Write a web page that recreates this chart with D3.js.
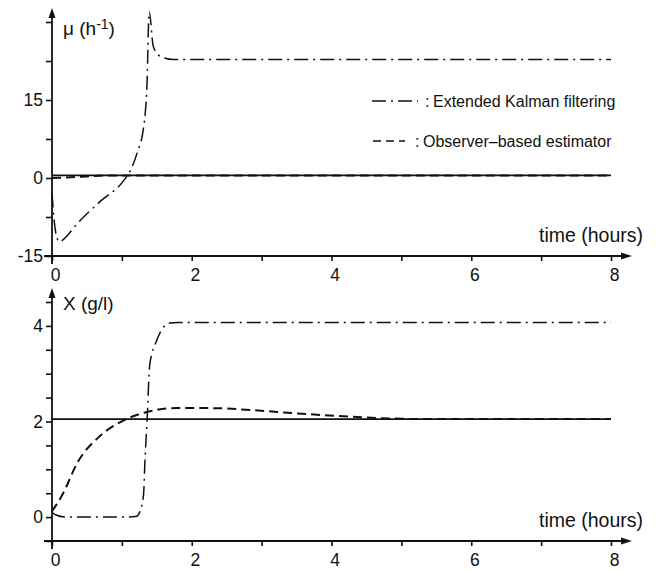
<!DOCTYPE html>
<html>
<head>
<meta charset="utf-8">
<script src="https://cdn.jsdelivr.net/npm/d3@7/dist/d3.min.js"></script>
<style>
  body { margin: 0; background: #fff; }
  svg { display: block; font-family: "Liberation Sans", Arial, sans-serif; }
  .tick text { font-size: 17.5px; fill: #111; }
  .tick line { stroke: #111; stroke-width: 1.6; }
</style>
</head>
<body>
<div id="chart"></div>
<script>
// time grid + values
const hourTicks = [0, 1, 2, 3, 4, 5, 6, 7, 8];
const hourLabels = [0, 2, 4, 6, 8];

const muTicks = [-15, -7.5, 0, 7.5, 15, 22.5, 30];
const muLabels = [-15, 0, 15];
const xTicks = [-0.5, 0, 0.5, 1, 1.5, 2, 2.5, 3, 3.5, 4, 4.5];
const xLabels = [0, 2, 4];

// true values (solid)
const trueT = [0, 8];
const trueMu = [0.5, 0.5];
const trueX = [2.05, 2.05];

// extended Kalman filter, mu
const ekfMuT = [0, 0.03, 0.07, 0.11, 0.18, 0.36, 0.69, 1.02, 1.12, 1.22, 1.31, 1.36, 1.39, 1.45, 1.55, 1.74, 2, 8];
const ekfMu = [-3, -8, -11.5, -12.3, -11.6, -8.8, -4.5, -0.6, 1.4, 4.9, 9.7, 18.3, 32, 25.3, 23.4, 22.8, 22.8, 22.8];

// observer, mu
const obsMuT = [0, 0.2, 0.5, 0.8, 8];
const obsMu = [0, 0.1, 0.3, 0.5, 0.5];

// extended Kalman filter, X
const ekfXT = [0, 0.05, 0.2, 0.6, 1.0, 1.2, 1.26, 1.31, 1.33, 1.36, 1.4, 1.5, 1.6, 1.69, 1.8, 8];
const ekfX = [0.1, 0.05, 0, 0, 0, 0.01, 0.12, 0.47, 1.17, 2.0, 3.2, 3.7, 3.98, 4.06, 4.07, 4.07];

// observer, X
const obsXT = [0, 0.16, 0.36, 0.69, 1.02, 1.36, 1.79, 2.27, 2.84, 3.5, 4.27, 4.7, 5.5, 8];
const obsX = [0.12, 0.5, 1.13, 1.7, 2.02, 2.2, 2.28, 2.28, 2.24, 2.17, 2.1, 2.07, 2.05, 2.05];

const W = 660, H = 572;
const ink = '#111';

const svg = d3.select('#chart').append('svg')
  .attr('width', W).attr('height', H);
svg.append('rect').attr('width', W).attr('height', H).attr('fill', '#fff');

const x = d3.scaleLinear().domain([0, 8]).range([52, 611]);

const panels = [
  {
    y: d3.scaleLinear().domain([-15, 30]).range([256, 22]),
    yTicks: muTicks, yLabels: muLabels, arrowTop: 8,
    series: [
      { t: trueT, v: trueMu, dash: null, w: 1.6 },
      { t: obsMuT, v: obsMu, dash: '9,5', w: 2 },
      { t: ekfMuT, v: ekfMu, dash: '14,5,2,5', w: 1.5 }
    ]
  },
  {
    y: d3.scaleLinear().domain([-0.5, 4.5]).range([541, 302]),
    yTicks: xTicks, yLabels: xLabels, arrowTop: 288,
    series: [
      { t: trueT, v: trueX, dash: null, w: 1.6 },
      { t: obsXT, v: obsX, dash: '9,5', w: 2 },
      { t: ekfXT, v: ekfX, dash: '14,5,2,5', w: 1.5 }
    ]
  }
];

const line = (y) => d3.line()
  .x(d => x(d[0]))
  .y(d => y(d[1]))
  .curve(d3.curveMonotoneX);

panels.forEach(p => {
  const y = p.y;
  const y0 = y.range()[0];
  const g = svg.append('g');

  // curves
  p.series.forEach(s => {
    g.append('path')
      .datum(d3.zip(s.t, s.v))
      .attr('d', line(y))
      .attr('fill', 'none')
      .attr('stroke', ink)
      .attr('stroke-width', s.w)
      .attr('stroke-dasharray', s.dash);
  });

  // y axis
  const ya = g.append('g')
    .attr('transform', `translate(${x(0)},0)`)
    .call(d3.axisLeft(y).tickValues(p.yTicks).tickSize(6).tickPadding(3)
      .tickFormat(d => p.yLabels.includes(d) ? d : ''));
  ya.select('.domain').remove();

  // x axis
  const xa = g.append('g')
    .attr('transform', `translate(0,${y0})`)
    .call(d3.axisBottom(x).tickValues(hourTicks).tickSize(5).tickPadding(8)
      .tickFormat(d => hourLabels.includes(d) ? d : ''));
  xa.select('.domain').remove();
  xa.selectAll('.tick text').attr('dx', 3);

  // axis lines with arrows
  g.append('line')
    .attr('x1', x(0)).attr('x2', x(0))
    .attr('y1', y0 + 8).attr('y2', p.arrowTop + 6)
    .attr('stroke', ink).attr('stroke-width', 1.8);
  g.append('path')
    .attr('d', `M${x(0)},${p.arrowTop} l-3.5,10 l7,0 Z`)
    .attr('fill', ink);
  g.append('line')
    .attr('x1', x(0) - 8).attr('x2', 624)
    .attr('y1', y0).attr('y2', y0)
    .attr('stroke', ink).attr('stroke-width', 1.8);
  g.append('path')
    .attr('d', `M632,${y0} l-11,-3.5 l0,7 Z`)
    .attr('fill', ink);

  // time label
  g.append('text')
    .attr('x', 643).attr('y', y0 - 14)
    .attr('text-anchor', 'end')
    .attr('font-size', 19.5)
    .attr('fill', ink)
    .text('time (hours)');
});

// y-axis titles
const muTitle = svg.append('text')
  .attr('x', 63).attr('y', 35)
  .attr('font-size', 19).attr('fill', ink);
muTitle.append('tspan').text('\u03bc (h');
muTitle.append('tspan').attr('font-size', 14).attr('dy', -6).text('-1');
muTitle.append('tspan').attr('dy', 6).text(')');

svg.append('text')
  .attr('x', 63).attr('y', 310)
  .attr('font-size', 19).attr('fill', ink)
  .text('X (g/l)');

// legend
const legend = [
  { dash: '14,5,2,5', x1: 372, x2: 418, y: 101, colon: 425, tx: 433, label: 'Extended Kalman filtering' },
  { dash: '8,5', x1: 373, x2: 405, y: 141, colon: 415, tx: 423, label: 'Observer\u2013based estimator' }
];
legend.forEach(l => {
  svg.append('line')
    .attr('x1', l.x1).attr('x2', l.x2)
    .attr('y1', l.y).attr('y2', l.y)
    .attr('stroke', ink).attr('stroke-width', 1.5)
    .attr('stroke-dasharray', l.dash);
  svg.append('text')
    .attr('x', l.colon).attr('y', l.y + 6)
    .attr('font-size', 16).attr('fill', ink)
    .text(':');
  svg.append('text')
    .attr('x', l.tx).attr('y', l.y + 6)
    .attr('font-size', 16).attr('fill', ink)
    .text(l.label);
});
</script>
</body>
</html>
